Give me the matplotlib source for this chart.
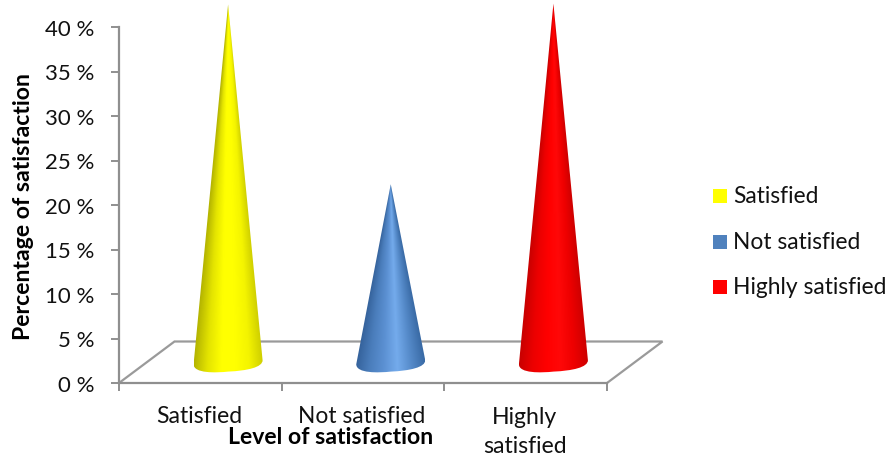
import numpy as np
import matplotlib
matplotlib.use('Agg')
import matplotlib.pyplot as plt
from matplotlib.colors import LinearSegmentedColormap
from matplotlib.patches import PathPatch, Rectangle
from matplotlib.path import Path

categories = ["Satisfied", "Not satisfied", "Highly\nsatisfied"]
legend_labels = ["Satisfied", "Not satisfied", "Highly satisfied"]
values = [40.2, 20.0, 40.3]
y_ticks = [0, 5, 10, 15, 20, 25, 30, 35, 40]
legend_colors = ["#FFFF00", "#4F81BD", "#FF0000"]
# shading around each cone, left edge to right edge
shades = [
    ["#B4B400", "#E4E400", "#FFFF00", "#FFFF00", "#F4F400", "#CFCF00"],
    ["#34619A", "#4A7DBB", "#5B90D2", "#74ABEC", "#558AC9", "#3A6BA6"],
    ["#C80000", "#EC0000", "#FF0000", "#FF0808", "#EE0000", "#CE0000"],
]

W, H = 891, 460
GREY = "#8F8F8F"
TXT = "#111111"

plt.rcParams['font.family'] = ["Lato", "DejaVu Sans"]
fig = plt.figure(figsize=(W / 100, H / 100), dpi=100, facecolor="white")
# plot box in pixels: x 119-607, y 28-384
ax = fig.add_axes([119 / W, 1 - 384 / H, (607 - 119) / W, (384 - 28) / H])
ax.set_xlim(0, len(categories))
ax.set_ylim(0, 40)
ax.patch.set_visible(False)
for s in ["top", "right"]:
    ax.spines[s].set_visible(False)
for s in ["left", "bottom"]:
    ax.spines[s].set_color(GREY)
    ax.spines[s].set_linewidth(1.6)

ax.set_yticks(y_ticks)
ax.set_yticklabels([f"{t} %" for t in y_ticks], fontsize=16, color=TXT)
ax.set_xticks(range(len(categories) + 1))
ax.set_xticklabels([])
ax.tick_params(axis='both', color=GREY, width=1.4, length=6)
ax.tick_params(axis='y', pad=11.5)

# sizes of the fake 3d floor, in data units
px_x = len(categories) / (607 - 119)
px_y = 40 / (384 - 28)
dep_x = 55.5 * px_x
dep_y = 41.5 * px_y
ax.plot([0, dep_x, 3 + dep_x, 3], [0, dep_y, dep_y, 0], color="#9A9A9A", lw=1.6,
        clip_on=False, solid_joinstyle="miter")

half_w = 34.5 * px_x
half_h = 8.5 * px_y
tilt = 2 * px_y
base_y = dep_y / 2

for i, val in enumerate(values):
    cx = i + 0.5 + dep_x / 2
    tip = base_y + val
    # triangle with a rounded, slightly tilted bottom
    verts = [
        (cx, tip),
        (cx - half_w, base_y - tilt),
        (cx - half_w, base_y - tilt - half_h * 1.1),
        (cx - half_w * 0.35, base_y - half_h * 1.25),
        (cx, base_y - half_h * 1.1),
        (cx + half_w * 0.55, base_y - half_h * 1.0),
        (cx + half_w, base_y - half_h * 0.6),
        (cx + half_w, base_y + tilt),
        (cx, tip),
    ]
    codes = [Path.MOVETO, Path.LINETO, Path.CURVE4, Path.CURVE4, Path.CURVE4,
             Path.CURVE4, Path.CURVE4, Path.LINETO, Path.CLOSEPOLY]
    clip = PathPatch(Path(verts, codes), transform=ax.transData, fc="none", ec="none")
    ax.add_patch(clip)
    cmap = LinearSegmentedColormap.from_list(f"cone{i}", shades[i])
    # shading follows the cone sides so it narrows towards the tip
    bottom = base_y - half_h * 2
    xs = np.linspace(cx - half_w, cx + half_w, 300)
    ys = np.linspace(tip, bottom, 600)
    gx, gy = np.meshgrid(xs, ys)
    frac = np.clip((tip - gy) / val, 1e-3, None)
    u = np.clip((gx - cx) / (half_w * frac) * 0.5 + 0.5, 0, 1)
    im = ax.imshow(u, cmap=cmap, vmin=0, vmax=1, aspect="auto", interpolation="bilinear",
                   zorder=3, extent=[cx - half_w, cx + half_w, bottom, tip], clip_on=True)
    im.set_clip_path(clip)
    im.set_clip_box(fig.bbox)

# imshow resets the limits
ax.set_xlim(0, len(categories))
ax.set_ylim(0, 40)

# category labels, baselines in pixels
label_x = [199, 362, 525]
fig.text(label_x[0] / W, 1 - 423 / H, categories[0], ha="center", va="baseline", fontsize=16.6, color=TXT)
fig.text(label_x[1] / W, 1 - 423 / H, categories[1], ha="center", va="baseline", fontsize=16.4, color=TXT)
for part, y in zip(categories[2].split("\n"), [424, 453]):
    fig.text(label_x[2] / W, 1 - y / H, part, ha="center", va="baseline", fontsize=16.6, color=TXT)

fig.text(331 / W, 1 - 444 / H, "Level of satisfaction", ha="center", va="baseline",
         fontsize=16.6, fontweight="bold", color="black", zorder=5)
fig.text(24 / W, 1 - 206.5 / H, "Percentage of satisfaction", ha="center", va="center",
         rotation=90, fontsize=16.6, fontweight="bold", color="black")

# legend
for lab, col, y in zip(legend_labels, legend_colors, [197, 243, 288]):
    fig.add_artist(Rectangle((713 / W, 1 - (y + 7) / H), 14 / W, 14 / H,
                             transform=fig.transFigure, fc=col, ec="none"))
    fig.text(733 / W, 1 - (y + 6) / H, lab, ha="left", va="baseline", fontsize=16.4, color=TXT)

fig.savefig("out.png", dpi=100, facecolor="white")
plt.close(fig)
